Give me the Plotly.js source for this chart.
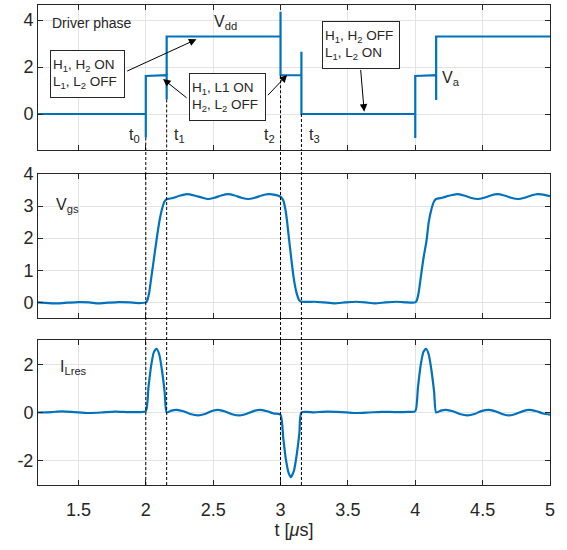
<!DOCTYPE html>
<html>
<head>
<meta charset="utf-8">
<script src="https://cdn.plot.ly/plotly-3.0.1.min.js"></script>
<style>html,body{margin:0;padding:0;background:#fff;}#plot{width:567px;height:550px;}</style>
</head>
<body>
<div id="plot"></div>
<script>
// ---- Data ----
// Driver phase (step waveform), t in µs
const drvT = [1.2, 2.0, 2.0, 2.0, 2.155, 2.155, 2.155, 3.0, 3.0, 3.0, 3.155, 3.155, 3.155, 4.0, 4.0, 4.0, 4.155, 4.155, 4.155, 5.0];
const drvV = [0, 0, -1.0, 1.62, 1.65, 0.62, 3.3, 3.3, 4.35, 1.65, 1.65, 2.65, 0, 0, -1.02, 1.62, 1.65, 0.6, 3.3, 3.3];

// Vgs
const vgsT = [1.2, 1.28, 1.35, 1.42, 1.5, 1.58, 1.65, 1.72, 1.8, 1.88, 1.95, 2.0,
  2.01, 2.025, 2.04, 2.06, 2.08, 2.10, 2.12, 2.14, 2.155,
  2.20, 2.25, 2.305, 2.36, 2.42, 2.46, 2.51, 2.56, 2.61, 2.66, 2.71, 2.76, 2.81, 2.86, 2.91, 2.96, 3.0,
  3.02, 3.04, 3.064, 3.08, 3.10, 3.12, 3.14, 3.16,
  3.25, 3.32, 3.4, 3.48, 3.56, 3.63, 3.7, 3.78, 3.86, 3.93, 3.98, 4.0,
  4.01, 4.025, 4.04, 4.06, 4.084, 4.10, 4.12, 4.14, 4.155,
  4.20, 4.25, 4.31, 4.36, 4.41, 4.465, 4.51, 4.56, 4.61, 4.66, 4.71, 4.765, 4.81, 4.86, 4.91, 4.96, 5.0];
const vgsV = [0.0, -0.02, -0.03, -0.01, 0.01, 0.0, -0.03, -0.01, 0.01, 0.0, -0.02, 0.0,
  0.05, 0.3, 0.75, 1.35, 1.95, 2.5, 2.9, 3.15, 3.21,
  3.25, 3.32, 3.37, 3.33, 3.26, 3.22, 3.26, 3.33, 3.37, 3.33, 3.26, 3.22, 3.26, 3.33, 3.37, 3.35, 3.29,
  3.18, 2.8, 1.94, 1.35, 0.7, 0.28, 0.06, 0.02,
  0.02, 0.0, -0.03, 0.0, 0.02, 0.0, -0.03, 0.0, 0.02, 0.0, -0.01, 0.0,
  0.05, 0.3, 0.75, 1.35, 1.94, 2.5, 2.9, 3.15, 3.22,
  3.26, 3.32, 3.37, 3.33, 3.26, 3.22, 3.26, 3.33, 3.37, 3.33, 3.26, 3.22, 3.26, 3.33, 3.37, 3.35, 3.31];

// I_Lres
const ilT = [1.2, 1.3, 1.38, 1.47, 1.57, 1.67, 1.77, 1.87, 1.95, 2.0,
  2.02, 2.04, 2.06, 2.08, 2.10, 2.12, 2.14, 2.155,
  2.19, 2.228, 2.28, 2.33, 2.388, 2.44, 2.49, 2.537, 2.59, 2.64, 2.698, 2.75, 2.80, 2.846, 2.9, 2.95, 3.0,
  3.02, 3.04, 3.06, 3.077, 3.10, 3.12, 3.14, 3.155,
  3.25, 3.35, 3.45, 3.55, 3.65, 3.75, 3.85, 3.95, 4.0,
  4.02, 4.04, 4.06, 4.08, 4.10, 4.12, 4.14, 4.155,
  4.19, 4.228, 4.28, 4.33, 4.388, 4.44, 4.49, 4.55, 4.60, 4.65, 4.70, 4.75, 4.80, 4.846, 4.9, 4.95, 5.0];
const ilV = [0.0, 0.02, 0.05, 0.02, -0.02, 0.0, 0.04, 0.02, 0.02, 0.05,
  1.05, 1.95, 2.5, 2.64, 2.4, 1.75, 0.85, 0.0,
  0.08, 0.11, 0.05, -0.06, -0.12, -0.06, 0.06, 0.11, 0.04, -0.07, -0.12, -0.05, 0.06, 0.11, 0.05, -0.04, -0.09,
  -1.05, -1.95, -2.5, -2.68, -2.4, -1.75, -0.85, 0.0,
  0.01, 0.04, 0.02, -0.02, 0.0, 0.03, 0.02, 0.03, 0.05,
  1.05, 1.95, 2.5, 2.64, 2.4, 1.75, 0.85, 0.0,
  0.08, 0.11, 0.05, -0.06, -0.12, -0.06, 0.06, 0.11, 0.04, -0.07, -0.12, -0.05, 0.06, 0.11, 0.05, -0.04, -0.09];

// Phase instants t0..t3 and the driver level where each dashed marker starts
const phaseT = [2.0, 2.155, 3.0, 3.155];
const phaseLevel = [-1.0, 0.62, 1.65, 0.0];
const phaseLabels = ['t<sub>0</sub>', 't<sub>1</sub>', 't<sub>2</sub>', 't<sub>3</sub>'];

// Axis ticks
const xTicks = [1.5, 2, 2.5, 3, 3.5, 4, 4.5, 5];
const xTickText = ['1.5', '2', '2.5', '3', '3.5', '4', '4.5', '5'];
const yTicksTop = [0, 2, 4];
const yTicksMid = [0, 1, 2, 3, 4];
const yTicksBot = [-2, 0, 2];
const yTickTextBot = ['-2', '0', '2'];

// ---- Styling ----
const blue = '#0072BD';
const axCol = '#262626';
const gridCol = '#e3e3e3';
const fontFam = 'Liberation Sans, Arial, Helvetica, sans-serif';
const xRange = [1.2, 5];
const topRange = [-1.53, 4.64];
const midRange = [-0.5, 4];
const botRange = [-3, 3];
const domTop = [0.698, 1];
const domMid = [0.347, 0.648];
const domBot = [0, 0.302];

function xax(anchor, showLabels, extra) {
  return Object.assign({
    anchor: anchor, range: xRange, tickvals: xTicks, ticktext: xTickText,
    showticklabels: showLabels, ticks: 'inside', ticklen: 5, tickcolor: axCol,
    showline: true, linecolor: axCol, linewidth: 1, mirror: 'ticks',
    showgrid: true, gridcolor: gridCol, gridwidth: 1, zeroline: false,
    tickfont: {family: fontFam, size: 18, color: axCol}
  }, extra || {});
}
function yax(anchor, range, dom, tv, tt) {
  const o = {
    anchor: anchor, range: range, domain: dom, tickvals: tv,
    ticks: 'inside', ticklen: 5, tickcolor: axCol,
    showline: true, linecolor: axCol, linewidth: 1, mirror: 'ticks',
    showgrid: true, gridcolor: gridCol, gridwidth: 1, zeroline: false,
    tickfont: {family: fontFam, size: 18, color: axCol}
  };
  if (tt) o.ticktext = tt;
  return o;
}

const lineStyle = {color: blue, width: 2.2, shape: 'spline', smoothing: 0.6};
const data = [
  {x: drvT, y: drvV, xaxis: 'x', yaxis: 'y', mode: 'lines', line: {color: blue, width: 2.2}, hoverinfo: 'skip'},
  {x: vgsT, y: vgsV, xaxis: 'x2', yaxis: 'y2', mode: 'lines', line: lineStyle, hoverinfo: 'skip'},
  {x: ilT, y: ilV, xaxis: 'x3', yaxis: 'y3', mode: 'lines', line: lineStyle, hoverinfo: 'skip'}
];

// dashed phase markers
const shapes = [];
phaseT.forEach((t, i) => {
  shapes.push({type: 'line', xref: 'x', yref: 'y', x0: t, x1: t, y0: phaseLevel[i], y1: topRange[0],
    line: {color: '#000', width: 1, dash: '3px,2px'}});
  shapes.push({type: 'line', xref: 'x', yref: 'paper', x0: t, x1: t, y0: 0, y1: domTop[0],
    line: {color: '#000', width: 1, dash: '3px,2px'}});
});

const annFont = {family: fontFam, size: 13.5, color: '#262626'};
const labFont = {family: fontFam, size: 16, color: '#262626'};
const boxBase = {xref: 'x', yref: 'y', align: 'left', valign: 'middle', showarrow: false, bordercolor: '#262626',
  borderwidth: 1, borderpad: 2, bgcolor: '#fff', font: annFont, height: 42};
const annotations = [
  {xref: 'x', yref: 'y', x: 1.29, y: 3.86, xanchor: 'left', yanchor: 'middle', text: 'Driver phase', showarrow: false,
    font: {family: fontFam, size: 14, color: '#262626'}},
  {xref: 'x', yref: 'y', x: 2.49, y: 3.9, xanchor: 'left', yanchor: 'middle', text: 'V<sub>dd</sub>', showarrow: false, font: labFont},
  {xref: 'x', yref: 'y', x: 4.185, y: 1.5, xanchor: 'left', yanchor: 'middle', text: 'V<sub>a</sub>', showarrow: false, font: labFont},
  // boxes
  Object.assign({}, boxBase, {x: 1.571, y: 1.69, width: 69, text: 'H<sub>1</sub>, H<sub>2</sub> ON<br>L<sub>1</sub>, L<sub>2</sub> OFF'}),
  Object.assign({}, boxBase, {x: 2.609, y: 0.71, width: 71, text: 'H<sub>1</sub>, L1 ON<br>H<sub>2</sub>, L<sub>2</sub> OFF'}),
  Object.assign({}, boxBase, {x: 3.596, y: 2.94, width: 72, text: 'H<sub>1</sub>, H<sub>2</sub> OFF<br>L<sub>1</sub>, L<sub>2</sub> ON'}),
  // arrows (tail at box edge, head at waveform)
  {xref: 'x', yref: 'y', axref: 'x', ayref: 'y', x: 2.376, y: 3.18, ax: 1.851, ay: 1.80, text: '', showarrow: true,
    arrowhead: 2, arrowsize: 1.5, arrowwidth: 1, arrowcolor: '#000'},
  {xref: 'x', yref: 'y', axref: 'x', ayref: 'y', x: 2.128, y: 1.49, ax: 2.314, ay: 0.64, text: '', showarrow: true,
    arrowhead: 2, arrowsize: 1.5, arrowwidth: 1, arrowcolor: '#000'},
  {xref: 'x', yref: 'y', axref: 'x', ayref: 'y', x: 3.049, y: 1.66, ax: 2.896, ay: 0.74, text: '', showarrow: true,
    arrowhead: 2, arrowsize: 1.5, arrowwidth: 1, arrowcolor: '#000'},
  {xref: 'x', yref: 'y', axref: 'x', ayref: 'y', x: 3.621, y: 0.1, ax: 3.594, ay: 1.94, text: '', showarrow: true,
    arrowhead: 2, arrowsize: 1.5, arrowwidth: 1, arrowcolor: '#000'},
  // middle / bottom labels
  {xref: 'x2', yref: 'y2', x: 1.32, y: 3.02, xanchor: 'left', yanchor: 'middle', text: 'V<sub>gs</sub>', showarrow: false, font: labFont},
  {xref: 'x3', yref: 'y3', x: 1.35, y: 1.85, xanchor: 'left', yanchor: 'middle', text: 'I<sub>Lres</sub>', showarrow: false, font: labFont}
];
const tLabelX = [1.86, 2.192, 2.863, 3.195];
phaseLabels.forEach((lab, i) => {
  annotations.push({xref: 'x', yref: 'y', x: tLabelX[i], y: -0.9, xanchor: 'left', yanchor: 'middle', text: lab,
    showarrow: false, font: labFont});
});

const layout = {
  width: 567, height: 550,
  margin: {l: 38, r: 17, t: 5, b: 65},
  paper_bgcolor: '#fff', plot_bgcolor: '#fff',
  showlegend: false,
  xaxis: xax('y', false),
  yaxis: yax('x', topRange, domTop, yTicksTop),
  xaxis2: xax('y2', false),
  yaxis2: yax('x2', midRange, domMid, yTicksMid),
  xaxis3: xax('y3', true, {ticklabelstandoff: 8,
    title: {text: 't [<i>μ</i>s]', font: {family: fontFam, size: 18, color: axCol}, standoff: 4}}),
  yaxis3: yax('x3', botRange, domBot, yTicksBot, yTickTextBot),
  shapes: shapes,
  annotations: annotations
};

Plotly.newPlot('plot', data, layout, {staticPlot: true, displayModeBar: false});
</script>
</body>
</html>
